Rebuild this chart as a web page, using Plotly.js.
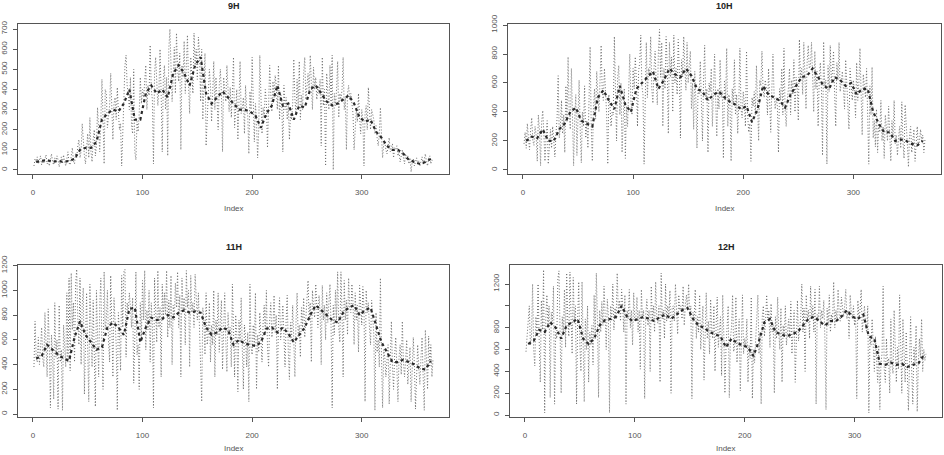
<!DOCTYPE html>
<html>
<head>
<meta charset="utf-8">
<script src="https://cdn.plot.ly/plotly-3.0.1.min.js"></script>
<style>html,body{margin:0;padding:0;background:#fff}#chart{width:944px;height:455px}</style>
</head>
<body>
<div id="chart"></div>
<script>
// Panel titles
const panelTitles = ["9H", "10H", "11H", "12H"];
const xTickVals = [0, 100, 200, 300];

// Raw daily values (index 1..365)
const raw9 = [
20,55,40,65,30,45,70,25,50,35,
60,75,30,45,20,55,80,40,25,60,
35,70,50,15,45,65,30,75,40,20,
55,90,35,25,70,110,45,30,85,60,
120,150,60,95,230,140,70,30,110,180,
60,260,90,40,150,200,70,120,310,180,
90,250,450,260,30,400,380,210,260,320,
480,280,150,330,360,250,410,290,200,230,
20,180,360,520,570,420,380,300,460,220,
180,500,90,50,240,190,280,460,330,400,
360,480,520,300,420,370,620,400,350,30,
480,560,430,320,400,600,380,90,450,520,
300,460,70,600,700,520,340,460,610,380,
680,500,440,580,100,520,460,640,380,520,
670,420,280,560,480,380,680,520,600,450,
660,580,340,600,250,420,580,120,280,350,
500,420,240,380,540,300,460,350,200,420,
500,380,90,460,400,340,520,380,290,410,
260,380,560,210,320,400,150,330,540,280,
300,360,180,420,300,270,80,390,300,560,
280,140,330,240,60,200,570,300,180,310,
260,400,340,110,310,520,380,290,440,360,
470,420,300,520,250,380,340,90,420,300,
360,250,320,150,280,250,330,550,350,280,
450,320,540,250,370,300,480,560,350,420,
480,380,570,430,300,510,400,460,350,420,
380,450,120,560,320,400,20,480,350,300,
520,330,570,0,380,320,400,540,260,380,
350,400,560,300,360,100,380,420,350,380,
330,280,100,250,300,240,380,260,180,300,
250,20,280,320,200,410,260,200,300,280,
250,180,220,160,120,180,310,170,60,130,
140,100,80,120,160,90,110,130,60,110,
100,120,70,90,40,80,100,60,30,80,
50,70,30,60,-10,40,55,20,35,60,
30,45,20,40,65,25,50,80,40,20,
60,70,30,50,45];

const raw10 = [
180,260,150,320,220,140,280,360,200,170,
300,240,60,380,280,30,330,410,250,60,
220,340,40,190,280,150,300,200,90,250,
360,650,220,300,480,250,380,120,580,330,
780,400,280,700,450,30,350,520,100,340,
620,280,50,400,300,580,220,340,150,480,
850,300,60,420,560,350,680,520,400,620,
860,540,480,700,560,380,40,520,450,300,
400,380,920,560,200,640,720,380,600,120,
380,560,80,440,300,620,800,480,380,700,
560,780,620,300,680,740,930,580,520,40,
620,880,500,700,650,920,560,460,700,820,
600,450,820,970,640,880,300,700,560,920,
720,250,880,640,780,400,930,600,700,520,
900,680,220,760,640,920,700,550,880,600,
720,820,420,600,280,680,480,150,560,520,
750,420,200,620,860,480,560,120,600,540,
700,300,580,800,480,230,560,420,760,500,
540,80,620,480,840,300,520,440,60,560,
460,760,380,520,250,460,840,420,360,540,
460,300,820,380,260,320,60,500,440,540,
380,720,460,200,620,580,820,560,500,620,
560,380,700,480,260,560,800,520,420,500,
440,120,560,480,700,380,840,420,300,480,
560,700,380,620,520,760,400,640,580,340,
900,620,700,520,880,660,420,740,860,700,
720,880,600,400,820,560,680,300,620,740,
560,100,885,580,620,40,720,540,860,600,
680,820,520,300,740,620,880,540,600,680,
560,420,760,600,520,280,700,560,480,620,
540,360,740,480,600,840,520,240,660,580,
500,700,300,40,580,380,710,220,340,160,
420,120,320,260,480,200,300,80,380,260,
200,440,280,60,340,220,480,180,240,100,
220,300,150,470,200,80,450,260,180,20,
240,300,120,200,280,60,220,300,160,200,
280,200,240,120,210];

const raw11 = [
380,750,460,420,620,400,540,700,450,380,
820,480,300,850,560,50,640,480,120,900,
460,600,40,880,420,520,30,720,500,380,
980,420,1100,350,1140,680,900,420,1050,1170,
760,560,1100,400,880,1020,160,700,980,520,
100,1050,620,380,920,480,60,1000,540,300,
880,1100,520,200,1150,680,760,1000,580,420,
1120,760,300,940,700,560,30,820,640,350,
1120,700,1150,1170,460,900,820,980,860,700,
940,250,620,1150,480,560,200,900,600,1080,
760,1160,520,840,680,1000,420,900,720,50,
1100,760,580,1160,700,860,300,1050,760,980,
800,1160,620,920,700,1120,400,880,760,1060,
860,1150,700,960,300,1100,820,940,560,1160,
860,1000,380,1120,820,900,700,1130,860,760,
980,640,300,100,860,760,480,980,560,640,
900,420,720,560,1000,300,760,640,980,500,
760,920,360,700,980,580,340,820,640,700,
380,1050,520,300,800,640,180,760,580,940,
540,200,720,620,380,660,100,1050,540,480,
720,560,980,200,640,500,820,560,420,740,
880,640,1000,540,380,760,900,620,700,960,
660,800,200,740,940,600,700,880,560,380,
760,960,500,280,740,620,880,560,300,740,
980,620,720,460,860,700,940,620,760,860,
1080,760,900,420,1000,860,780,1050,880,700,
960,820,400,1040,760,880,600,980,740,860,
1050,700,50,880,640,1000,760,1150,700,580,
1150,820,300,1080,760,920,640,1100,860,820,
1050,900,560,980,760,880,500,1040,800,720,
1030,860,100,1000,820,900,700,560,920,780,
640,30,820,500,600,380,1100,460,50,520,
460,300,420,560,80,440,750,380,200,480,
620,380,100,460,560,320,750,420,300,440,
600,240,420,540,100,380,620,400,40,300,
560,380,240,460,620,300,30,680,420,200,
630,380,560,300,450];

const raw12 = [
580,700,860,1000,640,720,1200,600,450,900,
760,1200,680,300,1050,780,1330,20,880,1100,
820,1000,160,940,860,1180,100,760,700,1250,
1320,640,200,900,760,1150,620,1300,860,720,
1310,900,560,1260,840,1000,100,880,1220,640,
400,1220,720,120,880,600,1000,300,760,640,
820,460,1100,700,1300,880,160,960,760,1040,
820,1180,920,600,1060,900,20,1000,860,1200,
780,980,880,1300,940,1050,860,1150,1000,760,
1100,100,960,880,1150,800,960,640,1120,860,
900,1080,760,960,420,1150,880,960,150,920,
1060,820,960,400,1180,880,1000,760,1220,900,
840,1000,300,1300,880,960,700,1200,860,1000,
900,1140,200,980,1000,860,1200,920,740,1100,
960,1000,880,1180,820,1000,1100,960,1200,900,
1000,150,940,860,1150,700,900,760,1100,600,
880,1000,320,800,1120,700,860,560,1060,780,
700,1000,400,820,1080,620,760,900,360,1100,
740,200,620,880,1000,160,700,800,1100,580,
640,1080,480,720,880,220,660,1100,560,700,
620,880,300,640,520,1080,150,600,480,720,
880,1100,560,760,100,900,1000,720,860,1100,
880,960,620,1020,760,820,200,900,700,1080,
760,600,980,300,820,720,1000,640,760,880,
700,1040,560,780,960,300,760,1050,680,820,
900,1200,760,980,400,1100,860,960,700,1180,
880,1000,760,1150,100,920,860,1180,800,960,
880,1050,700,50,980,820,1100,760,920,860,
1220,800,960,880,1150,920,860,1080,960,900,
1000,1150,880,960,700,1100,940,880,1000,820,
900,150,1050,880,960,1150,760,920,1000,820,
760,1000,20,700,640,880,560,400,720,500,
300,640,50,480,560,1180,420,300,700,460,
520,200,880,460,380,960,540,300,620,420,
1100,460,200,880,520,300,760,420,40,480,
900,400,100,620,480,820,30,460,700,520,
880,400,600,500,560];

// Smoothed series, sampled at these indices
const smoothIdx = [3,8,13,18,23,28,33,38,43,48,53,58,63,68,73,78,83,88,93,98,103,108,113,118,123,128,133,138,143,148,153,158,163,168,173,178,183,188,193,198,203,208,213,218,223,228,233,238,243,248,253,258,263,268,273,278,283,288,293,298,303,308,313,318,323,328,333,338,343,348,353,358,363];
const smooth9 = [40,45,50,40,45,40,45,55,100,110,110,140,250,280,300,290,330,400,250,250,380,420,380,400,360,480,520,480,420,520,560,380,330,360,390,360,330,300,300,290,270,210,280,320,420,320,330,250,320,310,400,420,380,340,320,330,350,370,330,260,240,250,190,160,120,100,100,80,50,40,30,40,55];
const smooth10 = [200,230,220,280,200,200,280,320,400,430,340,320,300,500,550,480,420,580,450,400,560,600,640,680,560,620,700,660,640,700,650,560,540,480,520,540,500,470,450,420,440,330,420,580,520,500,480,430,520,580,640,650,700,640,580,560,640,620,580,600,520,560,560,400,320,260,260,200,210,200,180,170,200];
const smooth11 = [450,470,560,520,480,450,430,620,750,640,580,520,540,700,740,700,640,850,860,580,700,780,760,770,800,780,820,840,820,830,820,700,640,660,700,680,560,600,570,560,550,580,690,700,660,700,650,580,640,700,800,880,840,800,760,740,820,860,880,800,840,860,720,580,500,420,420,440,420,400,370,360,430];
const smooth12 = [650,680,780,760,850,800,700,820,850,880,700,650,700,820,870,880,900,1000,900,860,880,900,880,860,900,920,880,920,960,980,880,820,800,760,740,720,620,700,660,640,620,540,680,850,880,760,740,720,740,760,820,880,900,860,820,860,860,900,960,900,880,920,720,700,470,460,480,460,470,440,460,470,550];

// Y ticks per panel
const yTicks9 = [0,100,200,300,400,500,600,700];
const yTicks10 = [0,200,400,600,800,1000];
const yTicks11 = [0,200,400,600,800,1000,1200];
const yTicks12 = [0,200,400,600,800,1000,1200];
const yTickText12 = ["0","200","400","600","800","","1200"];

const rawSets = [raw9, raw10, raw11, raw12];
const smoothSets = [smooth9, smooth10, smooth11, smooth12];

const W = 944, H = 455;
const boxes = [
  {l:18, r:449, t:24, b:174},
  {l:508, r:941, t:24, b:174},
  {l:18, r:449, t:265, b:417},
  {l:510, r:942, t:265, b:417}
];
const yRanges = [[-20,725],[-28,1007],[-24,1205],[-18,1374]];
const yTickSets = [yTicks9, yTicks10, yTicks11, yTicks12];
const yTickTexts = [null, null, null, yTickText12];

const traces = [];
const layout = {
  width: W, height: H,
  margin: {l:0, r:0, t:0, b:0},
  paper_bgcolor: '#fff', plot_bgcolor: '#fff',
  showlegend: false,
  font: {family: 'Liberation Sans, Arial, sans-serif', color: '#444'},
  annotations: []
};

for (let i = 0; i < 4; i++) {
  const raw = rawSets[i];
  const xi = raw.map((_, k) => k + 1);
  const sfx = i === 0 ? '' : String(i + 1);
  traces.push({
    x: xi, y: raw, type: 'scatter', mode: 'lines',
    xaxis: 'x' + sfx, yaxis: 'y' + sfx,
    line: {color: '#6e6e6e', width: 1, dash: '1px,2px'},
    hoverinfo: 'skip'
  });
  traces.push({
    x: smoothIdx, y: smoothSets[i], type: 'scatter', mode: 'lines',
    xaxis: 'x' + sfx, yaxis: 'y' + sfx,
    line: {color: '#2a2a2a', width: 2.2, dash: '3px,3px'},
    hoverinfo: 'skip'
  });
  const bx = boxes[i];
  const common = {
    showgrid: false, zeroline: false, showline: true, mirror: true,
    linecolor: '#555', linewidth: 1, ticks: 'outside', ticklen: 4,
    tickcolor: '#555', tickwidth: 1,
    tickfont: {size: 8, color: '#555', family: 'Liberation Sans, Arial, sans-serif'}
  };
  layout['xaxis' + sfx] = Object.assign({}, common, {
    domain: [bx.l / W, bx.r / W],
    anchor: 'y' + sfx,
    range: [-13.56, 379.56],
    tickmode: 'array', tickvals: xTickVals,
    ticklabelstandoff: 6
  });
  const ya = Object.assign({}, common, {
    domain: [1 - bx.b / H, 1 - bx.t / H],
    anchor: 'x' + sfx,
    range: yRanges[i],
    tickmode: 'array', tickvals: yTickSets[i],
    tickangle: -90,
    ticklabelstandoff: 3
  });
  if (yTickTexts[i]) ya.ticktext = yTickTexts[i];
  layout['yaxis' + sfx] = ya;
  const cx = (bx.l + bx.r) / 2 / W;
  layout.annotations.push({
    text: '<b>' + panelTitles[i] + '</b>', xref: 'paper', yref: 'paper',
    x: cx, y: 1 - (bx.t - 18) / H, xanchor: 'center', yanchor: 'middle',
    showarrow: false, font: {size: 9, color: '#222'}
  });
  layout.annotations.push({
    text: 'Index', xref: 'paper', yref: 'paper',
    x: cx, y: 1 - Math.min(bx.b + 35, 448) / H, xanchor: 'center', yanchor: 'middle',
    showarrow: false, font: {size: 8, color: '#555'}
  });
}

Plotly.newPlot('chart', traces, layout, {staticPlot: true, displayModeBar: false});
</script>
</body>
</html>
